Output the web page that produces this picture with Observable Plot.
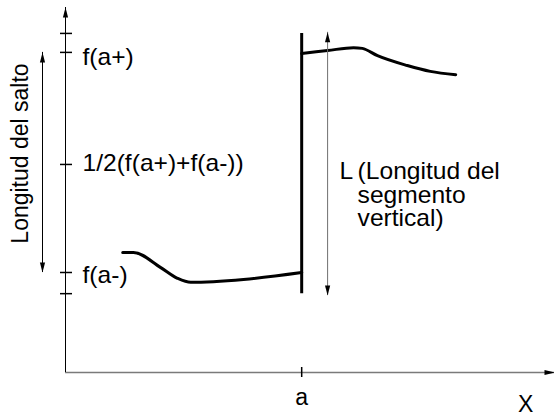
<!DOCTYPE html>
<html><head><meta charset="utf-8">
<script src="https://cdn.jsdelivr.net/npm/d3@7"></script>
<script src="https://cdn.jsdelivr.net/npm/@observablehq/plot@0.6"></script>
<style>html,body{margin:0;padding:0;background:#fff;} svg{display:block;}</style>
</head><body><div id="chart"></div>
<script>
// ---- data ----
const xDomain = [0, 10];
const yDomain = [0, 10];
const a = 4.83;
const aLabel = "a";
const xLabel = "X";
const xLabelPos = 9.41;
const fPlus = 8.77, fMid = 5.70, fMinus = 2.74;
const segTop = 9.29, segBottom = 2.16;
const yTickValues = [segTop, fPlus, fMid, fMinus, segBottom];
const yTickLabels = ["", "f(a+)", "1/2(f(a+)+f(a-))", "f(a-)", ""];
const leftX = [1.17, 1.39, 1.94, 2.29, 2.56, 3.64, 4.83];
const leftY = [3.29, 3.29, 2.88, 2.58, 2.47, 2.55, 2.74];
const rightX = [4.83, 5.36, 5.89, 6.07, 6.38, 6.99, 7.46, 7.98];
const rightY = [8.74, 8.82, 8.90, 8.88, 8.68, 8.41, 8.25, 8.16];
const lArrowX = 5.36, lArrowTop = 9.32, lArrowBottom = 2.11;
const jumpLabel = "Longitud del salto";
const jumpLabelY = 6.0;
const lLabel = "L";
const lNote = "(Longitud del\nsegmento\nvertical)";

// ---- styles: vertical pixel nudge of each tick label ----
const tickLabelDy = [0, 5, -0.5, 3.5, 0];

// ---- build tables ----
const ticks = yTickValues.map((y, i) => ({y, label: yTickLabels[i]}));
const leftCurve = leftX.map((x, i) => ({x, y: leftY[i]}));
const rightCurve = rightX.map((x, i) => ({x, y: rightY[i]}));

const font = "'Liberation Sans', Arial, Helvetica, sans-serif";
const head = (data, opts) => Plot.vector(data, {x: "x", y: "y", shape: "spike", anchor: "end", length: 10, r: 2.6, stroke: "none", fillOpacity: 1, ...opts});

const chart = Plot.plot({
  width: 554,
  height: 417,
  x: {domain: xDomain, range: [65, 554], axis: null},
  y: {domain: yDomain, range: [372, 7], axis: null},
  style: {fontFamily: font, fontSize: "23px", background: "#fff", overflow: "visible", color: "#000"},
  marks: [
    // x axis
    Plot.ruleY([yDomain[0]], {x1: xDomain[0], x2: xDomain[1], stroke: "#7a7a7a", strokeWidth: 1.6}),
    head([{x: xDomain[1], y: yDomain[0]}], {rotate: 90, fill: "#000"}),
    Plot.ruleX([a], {y1: yDomain[0], y2: yDomain[0], insetTop: -5, insetBottom: -5, stroke: "#000", strokeWidth: 1.5}),
    Plot.text([aLabel], {x: a, y: yDomain[0], text: d => d, lineAnchor: "top", dy: 16}),
    Plot.text([xLabel], {x: xLabelPos, y: yDomain[0], text: d => d, lineAnchor: "top", dy: 23}),
    // y axis
    Plot.ruleX([xDomain[0]], {y1: yDomain[0], y2: yDomain[1], stroke: "#000", strokeWidth: 1}),
    head([{x: xDomain[0], y: yDomain[1]}], {rotate: 0, fill: "#000"}),
    Plot.ruleY(ticks, {y: "y", x1: xDomain[0], x2: xDomain[0], insetLeft: -5, insetRight: -7, stroke: "#000", strokeWidth: 1.5}),
    ...ticks.map((t, i) => Plot.text([t], {x: xDomain[0], y: "y", text: "label", textAnchor: "start", dx: 17, dy: tickLabelDy[i], className: "wide"})),
    // jump-length double arrow
    Plot.ruleX([xDomain[0]], {y1: fMinus, y2: fPlus, dx: -23, stroke: "#000", strokeWidth: 1}),
    head([{x: xDomain[0], y: fPlus}], {rotate: 0, fill: "#000", dx: -23}),
    head([{x: xDomain[0], y: fMinus}], {rotate: 180, fill: "#000", dx: -23}),
    Plot.text([jumpLabel], {x: xDomain[0], y: jumpLabelY, text: d => d, rotate: -90, dx: -45, lineAnchor: "middle"}),
    // function curves
    Plot.line(leftCurve, {x: "x", y: "y", curve: "monotone-x", stroke: "#000", strokeWidth: 3}),
    Plot.line(rightCurve, {x: "x", y: "y", curve: "monotone-x", stroke: "#000", strokeWidth: 3}),
    // vertical segment at a
    Plot.ruleX([a], {y1: segBottom, y2: segTop, stroke: "#000", strokeWidth: 3}),
    // L double arrow
    Plot.ruleX([lArrowX], {y1: lArrowBottom, y2: lArrowTop, stroke: "#707070", strokeWidth: 1}),
    head([{x: lArrowX, y: lArrowTop}], {rotate: 0, fill: "#000"}),
    head([{x: lArrowX, y: lArrowBottom}], {rotate: 180, fill: "#000"}),
    Plot.text([lLabel], {x: lArrowX, y: fMid, text: d => d, textAnchor: "start", dx: 12, dy: 7, className: "wide"}),
    Plot.text([lNote], {x: lArrowX, y: fMid, text: d => d, textAnchor: "start", lineAnchor: "top", dx: 30, dy: -2, lineHeight: 1.02, className: "wide"})
  ]
});
// slight horizontal widening of horizontal labels, as in the reference lettering
chart.querySelectorAll("g.wide text").forEach(t => {
  const tr = t.getAttribute("transform") || "";
  t.setAttribute("transform", tr + " scale(1.07,1)");
});
document.getElementById("chart").appendChild(chart);
</script>
</body></html>
